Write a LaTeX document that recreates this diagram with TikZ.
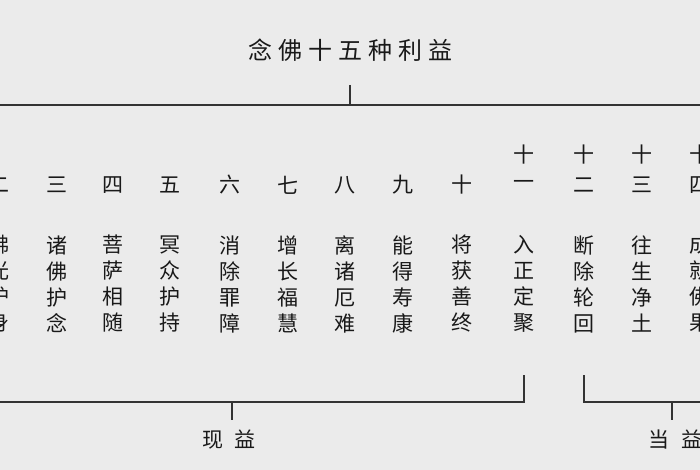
\documentclass[tikz,border=0pt]{standalone}
\usepackage{fontspec}
\newfontfamily\cjk{Noto Sans CJK SC}
\begin{document}
\begin{tikzpicture}[x=1pt,y=-1pt,
  ch/.style={font=\cjk\fontsize{21}{26}\selectfont, text=black!90, inner sep=0pt, align=center},
  ln/.style={line width=1.6pt, black!80}]
\fill[black!8] (0,0) rectangle (700,470);
\clip (0,0) rectangle (700,470);
\useasboundingbox (0,0) rectangle (700,470);
\node[ch, font=\cjk\fontsize{24}{28}\selectfont] (title) at (350,50) {念\hspace{6pt}佛\hspace{6pt}十\hspace{6pt}五\hspace{6pt}种\hspace{6pt}利\hspace{6pt}益};
\coordinate (tb) at (350,105);
\draw[ln] (0,105) -- (700,105);
\draw[ln] (title.south |- 0,85) -- (tb);
\foreach \x/\n/\t [count=\i] in {-1/二/佛\\光\\护\\身,57/三/诸\\佛\\护\\念,113/四/菩\\萨\\相\\随,170/五/冥\\众\\护\\持,230/六/消\\除\\罪\\障,288/七/增\\长\\福\\慧,345/八/离\\诸\\厄\\难,403/九/能\\得\\寿\\康,462/十/将\\获\\善\\终}{
  \node[ch] (n\i) at (\x,185) {\n};
  \node[ch] (c\i) at (\x,284) {\t};
}
\foreach \x/\a/\b/\t/\k in {524/十/一/入\\正\\定\\聚/a,584/十/二/断\\除\\轮\\回/b,642/十/三/往\\生\\净\\土/c,700/十/四/成\\就\\佛\\果/d}{
  \node[ch] (na\k) at (\x,155) {\a};
  \node[ch] (nb\k) at (\x,185) {\b};
  \node[ch] (c\k) at (\x,284) {\t};
}
\coordinate (L0) at (0,402);
\coordinate (La) at (524,375);
\coordinate (Lb) at (524,402);
\draw[ln] (L0) -- (Lb) -- (La);
\node[ch] (xy) at (229,440) {现\hspace{12pt}益};
\draw[ln] (232,402) -- (232,420);
\coordinate (Ra) at (584,375);
\coordinate (Rb) at (584,402);
\draw[ln] (Ra) -- (Rb) -- (700,402);
\node[ch] (dy) at (675,440) {当\hspace{12pt}益};
\draw[ln] (672,402) -- (672,420);
\end{tikzpicture}
\end{document}
